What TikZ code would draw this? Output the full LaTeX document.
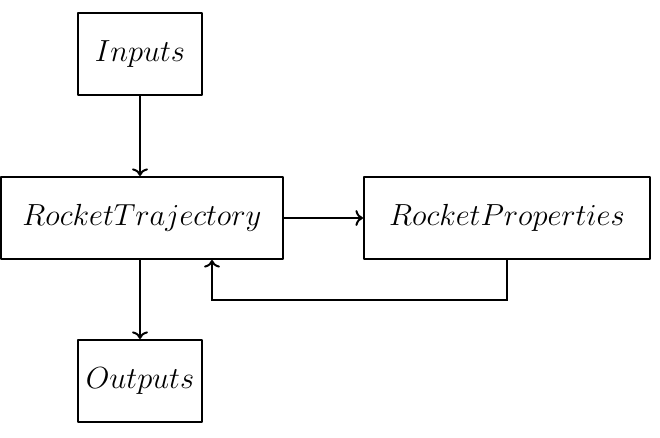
\documentclass[tikz,border=0pt]{standalone}
\usepackage{graphicx}
\usetikzlibrary{arrows.meta}
\newcommand{\blktxt}[1]{\scalebox{1.06}{$#1$}}
\begin{document}
\begin{tikzpicture}[x=0.5pt,y=-0.5pt,
  blk/.style={draw,line width=1pt,line join=round,inner sep=0pt,minimum height=41pt,font=\fontsize{14.4}{17}\selectfont},
  conn/.style={line width=1pt,->,>=To}]
\useasboundingbox (0,0) rectangle (660,438);
\node[blk,minimum width=62pt] (in) at (140,54) {\blktxt{Inputs}};
\node[blk,minimum width=141pt] (rt) at (142,218) {\blktxt{RocketTrajectory}};
\node[blk,minimum width=143pt] (rp) at (507,218) {\blktxt{RocketProperties}};
\node[blk,minimum width=62pt] (out) at (140,381) {\blktxt{Outputs}};
\draw[conn] (in.south) -- (in.south |- rt.north);
\draw[conn] (rt.east) -- (rp.west);
\draw[conn] (out.north |- rt.south) -- (out.north);
\draw[conn] (rp.south) -- ++(0,40) -| ([xshift=35pt]rt.south);
\end{tikzpicture}
\end{document}
